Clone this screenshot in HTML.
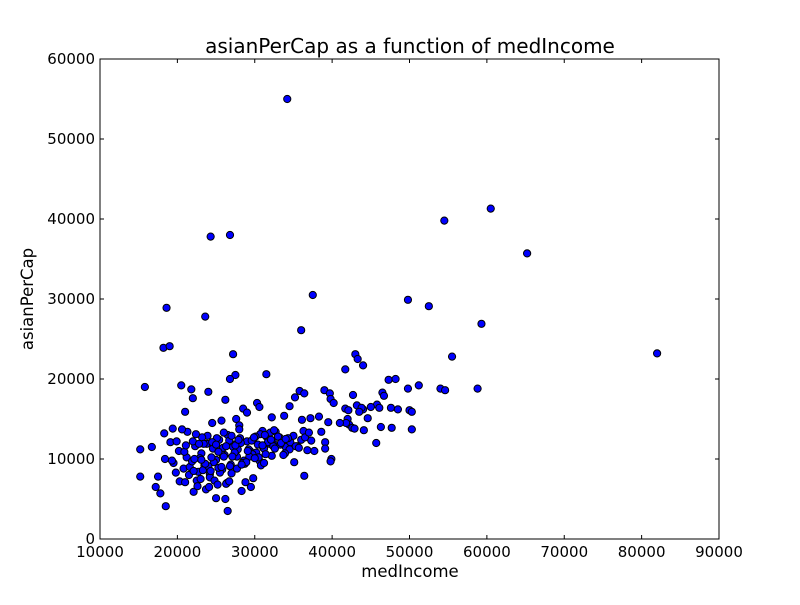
<!DOCTYPE html>
<html><head><meta charset="utf-8"><style>
body{margin:0;background:#fff;}
svg text{font-family:"DejaVu Sans","Liberation Sans",sans-serif;fill:#000;}
</style></head><body>
<svg id="chart" width="800" height="600" xmlns="http://www.w3.org/2000/svg">
<rect width="800" height="600" fill="#fff"/>
<text x="410" y="53" font-size="20" text-anchor="middle">asianPerCap as a function of medIncome</text>
<text x="410" y="577" font-size="16.5" text-anchor="middle">medIncome</text>
<text transform="translate(33,299) rotate(-90)" font-size="16.5" text-anchor="middle">asianPerCap</text>
<g id="ticks"></g>
<g id="points"></g>
<rect x="100" y="59" width="619" height="480" fill="none" stroke="#000" stroke-width="1"/>
</svg>
<script>
const xTicks=[10000,20000,30000,40000,50000,60000,70000,80000,90000];
const yTicks=[0,10000,20000,30000,40000,50000,60000];
const medIncome=[34200,60500,54500,24300,26800,65200,37500,49800,52500,18600,59300,23600,36000,18200,19000,27200,43000,55500,82000,43300,44000,41700,31500,27500,26800,47300,48200,51200,49800,54000,54600,58800,15800,20500,21800,24000,35800,36400,39000,39700,39800,35200,42700,46500,46700,45800,46100,43200,44000,43800,41700,42100,30300,30600,28500,29000,40200,47600,50000,50300,21000,22000,26200,27600,28000,25700,24500,38300,37200,36100,44600,42000,42200,41800,42600,42900,46300,47700,50300,44100,39500,38600,36300,33800,32200,34500,31000,39100,39900,39800,37700,39100,36400,45700,35100,15200,15200,16700,17200,17500,17800,18500,18400,18300,19100,19400,19900,20200,26500,26200,28300,29500,29800,25000,22100,23700,
19500,20800,21200,21600,22300,22700,23100,23500,23900,24200,24600,25000,25400,25800,26100,26500,26900,27300,27700,28100,28600,29000,29400,29800,30200,30700,31100,31500,31900,32300,32800,33200,33600,34000,34500,35000,35500,36000,36800,37300,
20300,20900,21500,22000,22500,22900,23300,23800,24200,24700,25100,25500,25900,26400,26800,27200,27700,28200,28700,29200,29700,30100,30600,31200,31700,32200,32700,33300,33900,34600,
19800,21000,21900,22600,23200,24000,24800,25600,26300,27000,27800,28800,29600,30500,31400,32400,
21300,22400,23400,24400,25300,26000,26700,27500,28400,29300,30800,32000,33000,35300,
19300,20600,22100,23000,24100,25200,25900,26700,27400,28900,31200,33700,
22200,22800,23600,24500,25300,25700,26300,27100,27900,28300,29100,29900,30400,31300,32100,32600,33400,34300,35700,36500,
21100,23100,24300,25000,26000,27000,28000,30000,31000,32500,34000,37000,41000,43500,45000,48500];
const asianPerCap=[55000,41300,39800,37800,38000,35700,30500,29900,29100,28900,26900,27800,26100,23900,24100,23100,23100,22800,23200,22500,21700,21200,20600,20500,20000,19900,20000,19200,18800,18800,18600,18800,19000,19200,18700,18400,18500,18200,18600,18200,17500,17700,18000,18300,17900,16800,16400,16700,16200,16400,16300,16100,17000,16500,16300,15800,17000,16400,16100,15900,15900,17600,17400,15000,14200,14800,14500,15300,15100,14900,15100,15000,14300,14500,13900,13800,14000,13900,13700,13600,14600,13400,13500,15400,15200,16600,13500,12100,10000,9700,11000,11300,7900,12000,9600,11200,7800,11500,6500,7800,5700,4100,10000,13200,12100,13800,12200,11000,3500,5000,6000,6500,7600,5100,5900,6200,
9500,8800,10200,9000,11600,8400,10700,9200,12900,8100,11300,9900,12400,8700,10500,13000,9300,11800,10300,12600,9800,12200,11000,12500,10800,13100,11400,12800,11900,12300,11700,12700,12000,11500,11200,12900,11600,12400,11100,12300,
7200,10900,8000,12200,7300,10100,8600,11900,7700,9600,12600,8300,10400,7000,9100,11500,8800,12000,9400,11200,10600,12800,9800,11300,12100,10400,13400,11800,10700,12100,
8300,7100,9700,6600,12700,9100,7300,10900,6900,8200,11200,7100,12300,10200,10600,11600,
13400,13100,11900,10200,8900,13300,12300,11700,9500,10300,9200,13300,12800,11600,
9800,13700,8500,7500,6500,6800,11400,7200,10800,9600,9500,10500,
10000,11900,9400,12100,10900,9000,11600,10300,12400,9300,11000,12700,11800,13000,12400,11300,12000,12600,11400,12700,
11700,9900,8500,11800,10300,12900,13700,10100,11700,13600,12500,13300,14500,15900,16500,16200];
const X0=100,X1=719,Y0=539,Y1=59;
function sx(v){return X0+(v-10000)/80000*(X1-X0);}
function sy(v){return Y0-(v-0)/60000*(Y0-Y1);}
const NS="http://www.w3.org/2000/svg";
const tg=document.getElementById('ticks'),pg=document.getElementById('points');
xTicks.forEach(t=>{const x=sx(t);
 const a=document.createElementNS(NS,'line');a.setAttribute('x1',x);a.setAttribute('x2',x);a.setAttribute('y1',Y0);a.setAttribute('y2',Y0-4);a.setAttribute('stroke','#000');
 
 tg.appendChild(a);
 const b=a.cloneNode();b.setAttribute('y1',Y1);b.setAttribute('y2',Y1+4);tg.appendChild(b);
 const l=document.createElementNS(NS,'text');l.setAttribute('x',x);l.setAttribute('y',Y0+18);l.setAttribute('font-size','15');l.setAttribute('text-anchor','middle');l.textContent=t;
 
 tg.appendChild(l);});
yTicks.forEach(t=>{const y=sy(t);
 const a=document.createElementNS(NS,'line');a.setAttribute('x1',X0);a.setAttribute('x2',X0+4);a.setAttribute('y1',y);a.setAttribute('y2',y);a.setAttribute('stroke','#000');
 
 tg.appendChild(a);
 const b=a.cloneNode();b.setAttribute('x1',X1);b.setAttribute('x2',X1-4);tg.appendChild(b);
 const l=document.createElementNS(NS,'text');l.setAttribute('x',X0-5);l.setAttribute('y',y+5);l.setAttribute('font-size','15');l.setAttribute('text-anchor','end');l.textContent=t;
 
 tg.appendChild(l);});
medIncome.forEach((v,i)=>{const c=document.createElementNS(NS,'circle');
 c.setAttribute('cx',sx(v));c.setAttribute('cy',sy(asianPerCap[i]));c.setAttribute('r','3.6');
 c.setAttribute('fill','#0000ff');c.setAttribute('stroke','#000');c.setAttribute('stroke-width','1');
 
 pg.appendChild(c);});
</script>
</body></html>
